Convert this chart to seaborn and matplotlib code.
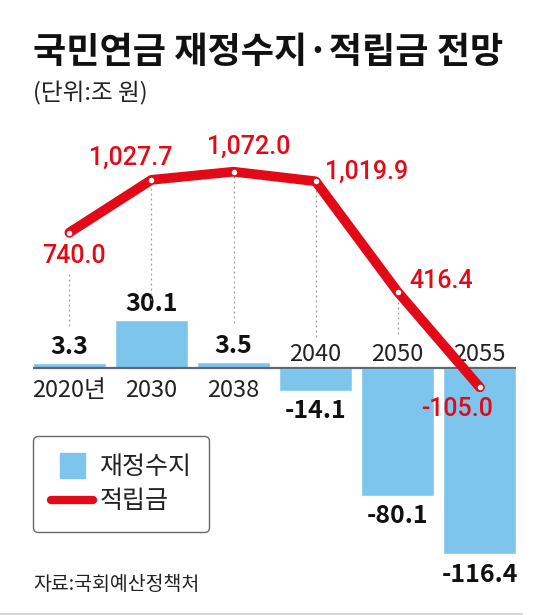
import matplotlib
matplotlib.use('Agg')
import matplotlib.pyplot as plt
import pandas as pd
import seaborn as sns
import numpy as np
from matplotlib.lines import Line2D

# data (단위: 조 원)
years = ['2020년', '2030', '2038', '2040', '2050', '2055']
balance = [3.3, 30.1, 3.5, -14.1, -80.1, -116.4]       # 재정수지
reserve = [740.0, 1027.7, 1072.0, 1019.9, 416.4, -105.0]  # 적립금

BLUE = '#7ec5ed'
RED = '#e30a17'
BASE = '#5b6977'

sns.set_theme(style='white')
plt.rcParams['font.family'] = ['Noto Sans CJK KR', 'DejaVu Sans']

df = pd.DataFrame({'year': years, 'balance': balance, 'reserve': reserve})
df['idx'] = np.arange(len(df))

W, H = 540, 615
fig = plt.figure(figsize=(W / 100, H / 100), dpi=100)

# bar axes cover the whole figure; baseline sits at y=368px
ax = fig.add_axes([0, 0, 1, 1])
step, x0, base_px, bar_scale = 82.06, 69.4, 368, 1.602
xlim = (-x0 / step, (W - x0) / step)
bw = 0.896
sns.barplot(data=df, x='idx', y='balance', color=BLUE, width=bw,
            saturation=1, ax=ax, native_scale=True, zorder=2)
ax.set_xlim(*xlim)
ax.set_ylim(-(H - base_px) / bar_scale, base_px / bar_scale)
ax.hlines(0, -bw / 2, len(df) - 1 + bw / 2, color=BASE, lw=1.6, zorder=3)

for i, (v, y) in enumerate(zip(balance, years)):
    up = v >= 0
    ax.annotate(f'{v:.1f}', (i, v), xytext=(0, 11.5 if up else -14.5),
                textcoords='offset points', ha='center', va='center',
                fontsize=18, fontweight='bold', color='#111')
    ax.annotate(y, (i, 0), xytext=(0, -16 if up else 9.5),
                textcoords='offset points', ha='center', va='center',
                fontsize=17, color='#222')

# line axes share x, own y scale with zero on the bar baseline
ax2 = ax.twinx()
line_scale = 0.1831
ax2.set_ylim(-(H - base_px) / line_scale, base_px / line_scale)

# dotted guides from each point down toward the labels
guide_top = [519, 1027.7, 1072.0, 1019.9, 416.4]
guide_end = [227, 374, 248, 172, 183]
ax2.vlines(df['idx'][:5], guide_end, guide_top, colors='#9a9a9a',
           linestyles=(0, (1.5, 2.5)), lw=0.9, zorder=1)

sns.lineplot(data=df, x='idx', y='reserve', ax=ax2, color=RED, lw=7,
             marker='o', markersize=5, markerfacecolor='white',
             markeredgecolor=RED, markeredgewidth=1, zorder=5)
ax2.set_xlim(*xlim)
ax2.set_ylim(-(H - base_px) / line_scale, base_px / line_scale)

offsets = [(3, -17), (-15, 16), (11, 18), (37, 6.5), (31, 8), (-16, -16)]
for i, (v, off) in enumerate(zip(reserve, offsets)):
    ax2.annotate(f'{v:,.1f}', (i, v), xytext=off, textcoords='offset points',
                 ha='center', va='center', fontsize=18, fontweight='medium',
                 family=['Roboto', 'Noto Sans CJK KR'], color=RED, zorder=6)

for a in (ax, ax2):
    a.set_axis_off()

# legend
handles = [Line2D([], [], marker='s', ls='', ms=18, color=BLUE),
           Line2D([], [], color=RED, lw=6, solid_capstyle='round')]
leg = fig.legend(handles, ['재정수지', '적립금'], loc='upper left',
                 bbox_to_anchor=(33 / W, 1 - 436 / H), fontsize=18,
                 frameon=True, fancybox=True, edgecolor='#444444',
                 handlelength=1.7, handletextpad=0.25, labelspacing=0.35,
                 borderpad=0.7, borderaxespad=0)
leg.get_frame().set_linewidth(1.0)
for t in leg.get_texts():
    t.set_color('#222')

# titles and source
fig.text(33 / W, 1 - 53 / H, '국민연금 재정수지·적립금 전망', fontsize=26,
         fontweight='bold', color='#111', va='center')
fig.text(33 / W, 1 - 93 / H, '(단위:조 원)', fontsize=17, color='#222', va='center')
fig.text(33 / W, 1 - 585 / H, '자료:국회예산정책처', fontsize=14, color='#222', va='center')
fig.add_artist(Line2D([0, 522 / W], [1 - 614 / H] * 2, color='#cccccc', lw=1.2))

fig.savefig('out.png', dpi=100)
